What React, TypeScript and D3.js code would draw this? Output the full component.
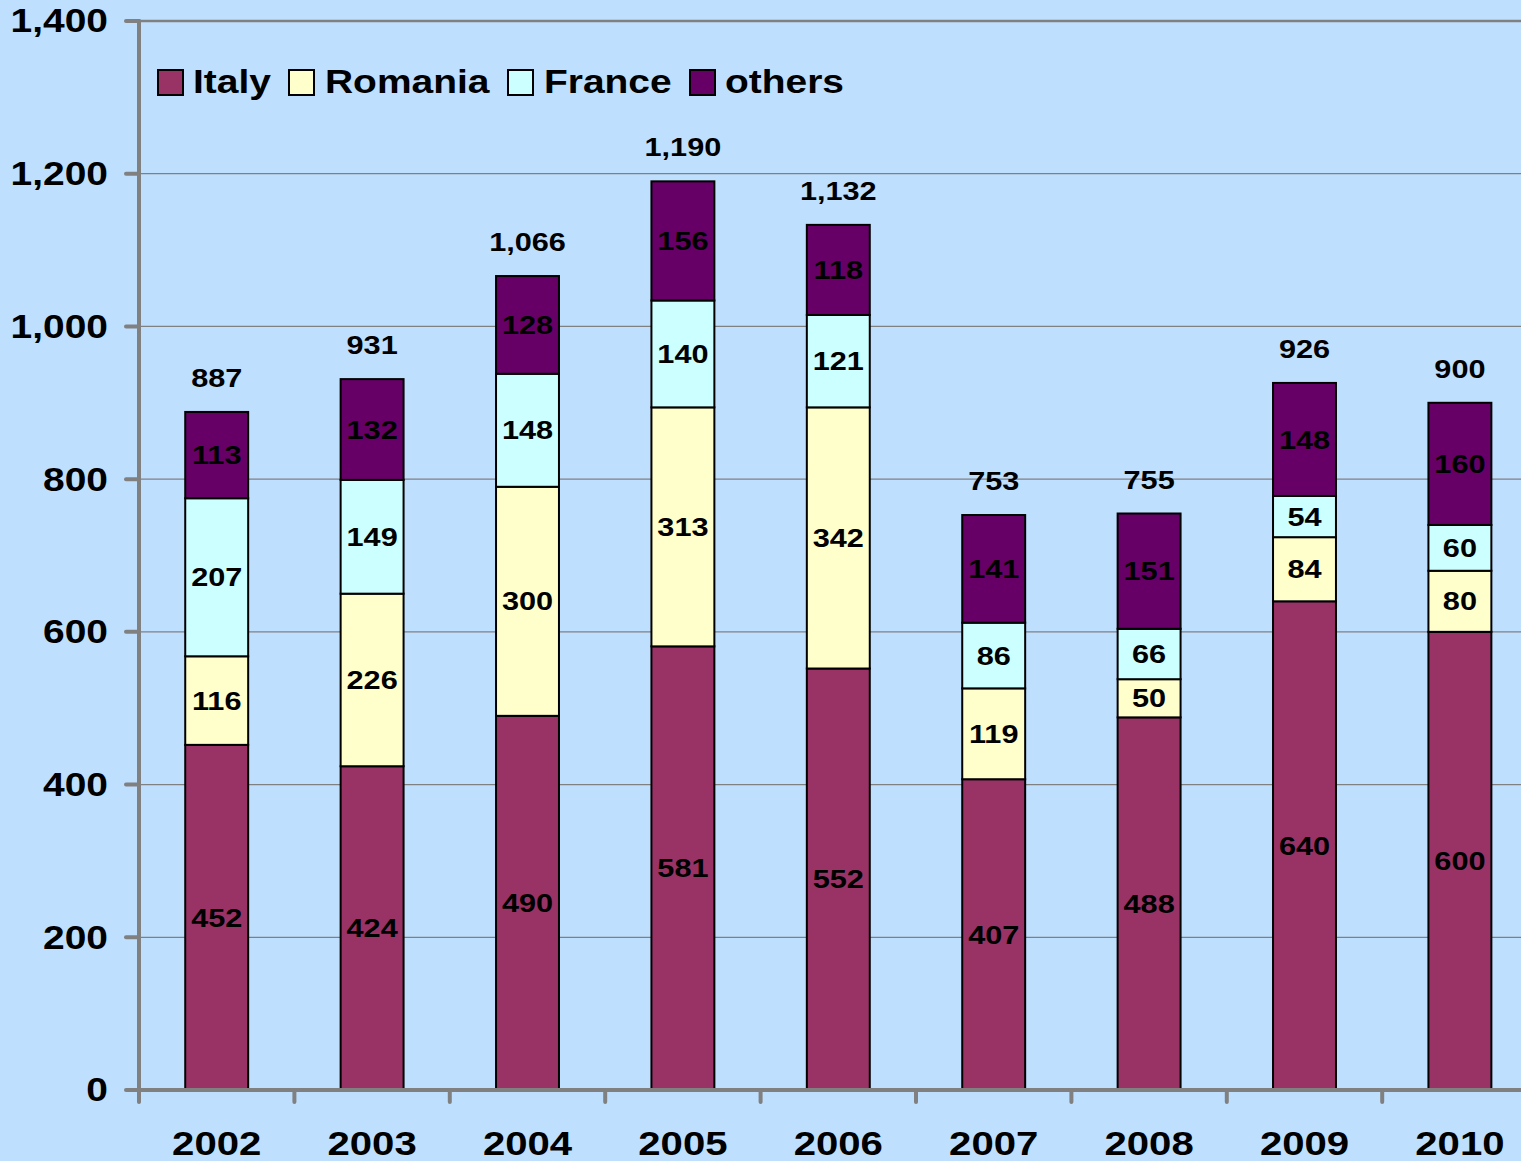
import React from "react";
import * as d3 from "d3";

const years = ["2002", "2003", "2004", "2005", "2006", "2007", "2008", "2009", "2010"];
const italy = [452, 424, 490, 581, 552, 407, 488, 640, 600];
const romania = [116, 226, 300, 313, 342, 119, 50, 84, 80];
const france = [207, 149, 148, 140, 121, 86, 66, 54, 60];
const others = [113, 132, 128, 156, 118, 141, 151, 148, 160];
const totals = [887, 931, 1066, 1190, 1132, 753, 755, 926, 900];
const seriesNames = ["Italy", "Romania", "France", "others"];
const yTicks = [0, 200, 400, 600, 800, 1000, 1200, 1400];

const colors = ["#993366", "#FFFFCC", "#CCFFFF", "#660066"];
const W = 1521, H = 1161;
const FONT = "'Liberation Sans', Arial, sans-serif";
const SX = 1.18;

function T(props: { x: number; y: number; size: number; anchor?: string; children: any }) {
  const { x, y, size, anchor = "middle", children } = props;
  return (
    <g transform={`translate(${x},${y}) scale(${SX},1)`}>
      <text x={0} y={0} textAnchor={anchor as any} dominantBaseline="central" fontSize={size} fontWeight="bold" fill="#000">
        {children}
      </text>
    </g>
  );
}

export default function App() {
  const left = 139, top = 21, bottom = 1090;
  const bandW = 155.4;
  const x = d3.scaleBand<string>().domain(years).range([left, left + bandW * years.length]).paddingInner(0.595).paddingOuter(0.2975);
  const y = d3.scaleLinear().domain([0, 1400]).range([bottom, top]);
  const rows = years.map((yr, i) => ({ year: yr, Italy: italy[i], Romania: romania[i], France: france[i], others: others[i] }));
  const stack = d3.stack<any>().keys(seriesNames)(rows);

  const legendItems = [
    { name: "Italy", sx: 158, tx: 193 },
    { name: "Romania", sx: 289, tx: 325 },
    { name: "France", sx: 508, tx: 544 },
    { name: "others", sx: 690, tx: 725 },
  ];

  return (
    <svg width={W} height={H} style={{ position: "absolute", left: 0, top: 0, background: "#BFDFFF" }} fontFamily={FONT}>
      <rect x={0} y={0} width={W} height={H} fill="#BFDFFF" />
      {yTicks.slice(1, -1).map((t) => (
        <line key={t} x1={left} x2={W} y1={y(t)} y2={y(t)} stroke="#808080" strokeWidth={1.2} />
      ))}
      <line x1={left} x2={W} y1={y(1400)} y2={y(1400)} stroke="#808080" strokeWidth={2.5} />
      {stack.map((s, si) =>
        s.map((d, i) => (
          <rect key={si + "-" + i} x={x(years[i])} width={x.bandwidth()} y={y(d[1])} height={y(d[0]) - y(d[1])}
            fill={colors[si]} stroke="#000" strokeWidth={2} />
        ))
      )}
      {stack.map((s, si) =>
        s.map((d, i) => (
          <T key={"l" + si + "-" + i} x={x(years[i])! + x.bandwidth() / 2} y={(y(d[0]) + y(d[1])) / 2} size={26}>
            {d[1] - d[0]}
          </T>
        ))
      )}
      {totals.map((t, i) => (
        <T key={"t" + i} x={x(years[i])! + x.bandwidth() / 2} y={y(stack[3][i][1]) - 34} size={26}>
          {d3.format(",")(t)}
        </T>
      ))}
      <line x1={left} x2={left} y1={top} y2={bottom} stroke="#808080" strokeWidth={4} strokeLinecap="round" />
      {yTicks.map((t) => (
        <g key={"yt" + t}>
          <line x1={left - 13} x2={left} y1={y(t)} y2={y(t)} stroke="#808080" strokeWidth={4} strokeLinecap="round" />
          <T x={108} y={y(t)} size={33} anchor="end">
            {d3.format(",")(t)}
          </T>
        </g>
      ))}
      <line x1={left} x2={W + 10} y1={bottom} y2={bottom} stroke="#808080" strokeWidth={4} strokeLinecap="round" />
      {d3.range(years.length + 1).map((k) => (
        <line key={"xt" + k} x1={left + k * bandW} x2={left + k * bandW} y1={bottom} y2={bottom + 12}
          stroke="#808080" strokeWidth={4} strokeLinecap="round" />
      ))}
      {years.map((yr) => (
        <T key={"xl" + yr} x={x(yr)! + x.bandwidth() / 2} y={1143} size={34}>
          {yr}
        </T>
      ))}
      {legendItems.map((it, i) => (
        <g key={"lg" + it.name}>
          <rect x={it.sx} y={70} width={25} height={25} fill={colors[i]} stroke="#000" strokeWidth={2} />
          <T x={it.tx} y={82} size={33} anchor="start">
            {it.name}
          </T>
        </g>
      ))}
    </svg>
  );
}
